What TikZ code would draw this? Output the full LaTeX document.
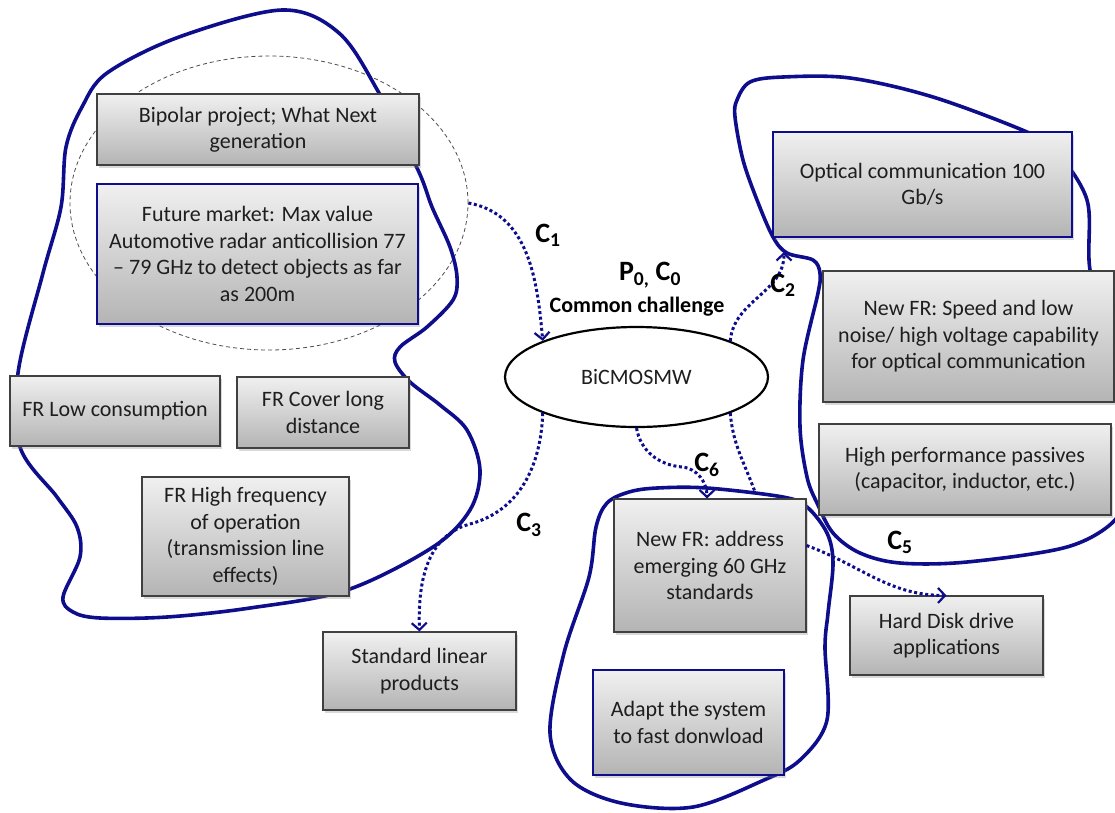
\documentclass[tikz,border=0pt]{standalone}
\usepackage{fontspec}
\setmainfont{Carlito}
\usetikzlibrary{arrows.meta,shadows,shapes.geometric}
\definecolor{navy}{RGB}{14,14,140}
\definecolor{gtop}{RGB}{240,240,240}
\definecolor{gbot}{RGB}{180,180,180}
\definecolor{txt}{RGB}{30,30,30}
\tikzset{
 gbox/.style={draw=black!75, line width=1.1pt, top color=gtop, bottom color=gbot,
   drop shadow={shadow xshift=2pt,shadow yshift=-2.5pt,opacity=0.3},
   align=center, inner sep=0pt, text=txt, font=\fontsize{22}{26.5}\selectfont},
 bbox/.style={gbox, draw=navy, line width=1.8pt},
 blob/.style={draw=navy, line width=3.6pt, line join=round},
 conn/.style={navy, line width=3pt, dash pattern=on 3pt off 2.6pt,
   -{Straight Barb[length=7pt,width=15pt,line width=2.2pt]}},
 connplain/.style={navy, line width=3pt, dash pattern=on 3pt off 2.6pt},
 lab/.style={font=\fontsize{28}{30}\bfseries\selectfont, text=black, inner sep=0pt},
}
\begin{document}
\begin{tikzpicture}[x=1pt,y=-1pt]
\useasboundingbox (0,0) rectangle (1115,812);
\clip (0,0) rectangle (1115,812);
% dashed grouping ellipse
\node[ellipse, draw=black!70, dash pattern=on 4pt off 3pt, line width=0.8pt,
  minimum width=398pt, minimum height=294pt, inner sep=0pt] (dc) at (269,203) {};
% blobs
\draw[blob] plot[smooth cycle, tension=0.55] coordinates {
 (282,10) (339,33) (379,93) (418,170) (432,207) (450,247) (457,277) (453,300)
 (427,327) (400,347) (395,362) (410,382) (440,405) (467,430) (480,470) (470,510)
 (433,547) (347,590) (250,608) (167,617) (100,618) (73,612) (63,597) (80,557)
 (77,527) (57,497) (20,447) (18,373) (43,273) (61,207) (66,147) (82,107)
 (107,73) (179,37)};
\draw[blob] plot[smooth cycle, tension=0.55] coordinates {
 (750,82) (783,77) (850,78) (933,97) (1027,132) (1055,150) (1087,200) (1090,270)
 (1110,340) (1122,413) (1120,490) (1115,520) (1067,547) (967,562) (900,563)
 (860,553) (833,533) (817,503) (807,477) (800,427) (803,360) (818,293) (820,273)
 (813,260) (787,253) (773,237) (757,200) (743,160) (735,117) (737,100)};
\draw[blob] plot[smooth cycle, tension=0.55] coordinates {
 (629,492) (657,488) (707,488) (783,497) (807,507) (827,533) (833,563) (828,613)
 (825,647) (827,720) (800,760) (764,780) (693,807) (621,803) (571,780) (550,733)
 (564,653) (589,577) (596,527) (607,503)};
% boxes
\node[gbox, minimum width=322pt, minimum height=71pt] (bip) at (258,129.5) {Bipolar project; What Next\\generation};
\node[bbox, minimum width=321pt, minimum height=140pt] (fut) at (257.5,254) {Future market: Max value\\Automotive radar anticollision 77\\– 79 GHz to detect objects as far\\as 200m};
\node[gbox, minimum width=210pt, minimum height=70pt] (frl) at (115,411) {FR Low consumption};
\node[gbox, minimum width=172pt, minimum height=71pt] (frc) at (323,412.5) {FR Cover long\\distance};
\node[gbox, minimum width=207pt, minimum height=119pt] (frh) at (245.5,536.5) {FR High frequency\\of operation\\(transmission line\\effects)};
\node[gbox, minimum width=193pt, minimum height=78pt] (slp) at (419.5,671) {Standard linear\\products};
\node[bbox, minimum width=299pt, minimum height=105pt] (opt) at (922.5,184.5) {Optical communication 100\\Gb/s};
\node[gbox, minimum width=291pt, minimum height=131pt] (spd) at (968.5,336.5) {New FR: Speed and low\\noise/ high voltage capability\\for optical communication};
\node[gbox, minimum width=292pt, minimum height=91pt] (pas) at (965,469.5) {High performance passives\\(capacitor, inductor, etc.)};
\node[gbox, minimum width=192pt, minimum height=133pt] (nfa) at (710,565.5) {New FR: address\\emerging 60 GHz\\standards};
\node[gbox, minimum width=193pt, minimum height=79pt] (hdd) at (946.5,635.5) {Hard Disk drive\\applications};
\node[bbox, minimum width=191pt, minimum height=105pt] (adp) at (688.5,722.5) {Adapt the system\\to fast donwload};
% central ellipse
\node[ellipse, draw=black, line width=2.2pt, fill=white, minimum width=263pt,
  minimum height=100pt, inner sep=0pt, font=\fontsize{22}{24}\selectfont, text=txt]
  (bic) at (636.5,377) {BiCMOSMW};
% connector ends and bends
\coordinate (c2e) at (784,252);
\coordinate (cxe) at (755,492);
\coordinate (c3m) at (470,524);
\coordinate (c6m) at (682,467);
% connectors
\draw[conn] (dc.east) to[out=-10,in=95] (bic.north west);
\draw[conn] (bic.north east) to[out=85,in=-90] (c2e);
\draw[conn] (bic.south west) to[out=-92,in=15] (c3m) to[out=195,in=92] (slp.north);
\draw[conn] (bic.south) to[out=-80,in=175] (c6m) to[out=-5,in=90] ([xshift=-3pt]nfa.north);
\draw[connplain] (bic.south east) to[out=-85,in=110] (cxe);
\draw[conn] ([yshift=20pt]nfa.east) to[out=-20,in=180] (hdd.north);
% labels
\node[lab] (l1) at (548,235) {C\textsubscript{1}};
\node[lab] (l0) at (650,275) {P\textsubscript{0,} C\textsubscript{0}};
\node[font=\fontsize{22}{24}\bfseries\selectfont, inner sep=0pt] (lcc) at (637,307) {Common challenge};
\node[lab] (l2) at (783,285) {C\textsubscript{2}};
\node[lab] (l3) at (529,525) {C\textsubscript{3}};
\node[lab] (l6) at (707,465) {C\textsubscript{6}};
\node[lab] (l5) at (900,542) {C\textsubscript{5}};
\end{tikzpicture}
\end{document}
